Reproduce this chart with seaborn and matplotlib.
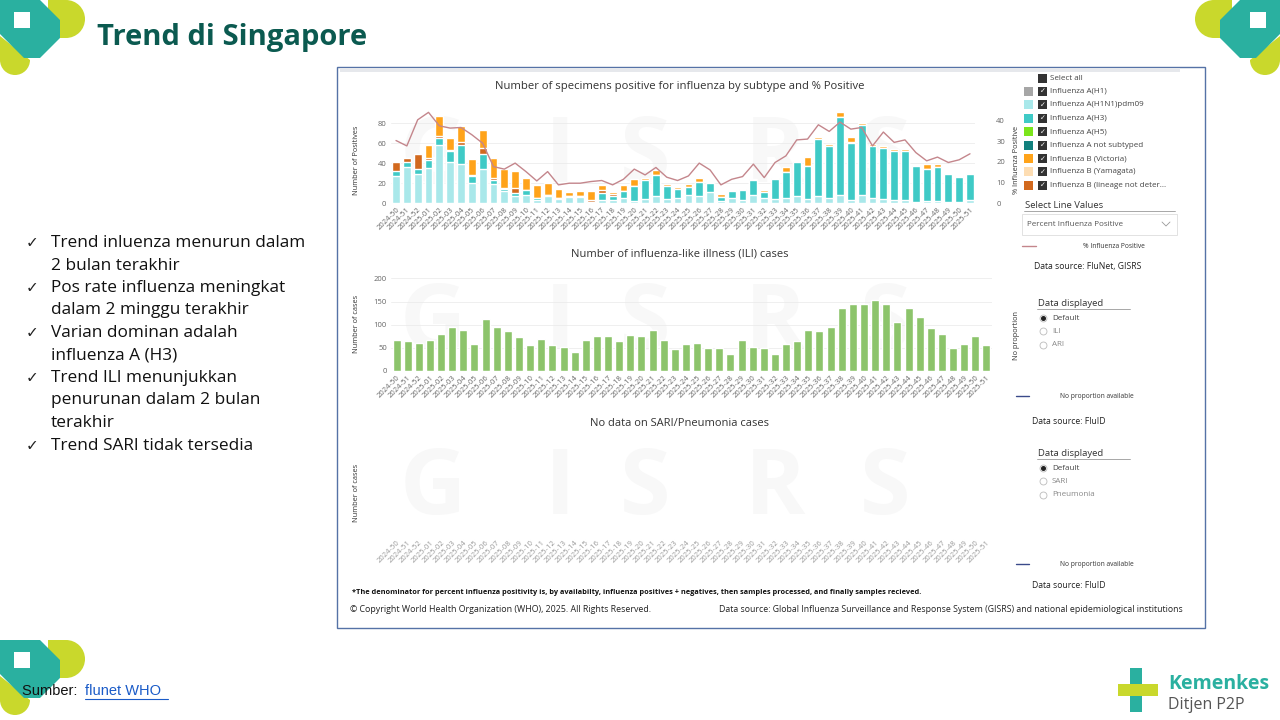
import numpy as np
import pandas as pd
import seaborn as sns
import matplotlib.pyplot as plt
from matplotlib.patches import Rectangle, Polygon, Wedge

# ---- data ----
weeks = ['2024-50', '2024-51', '2024-52', '2025-01', '2025-02', '2025-03', '2025-04',
         '2025-05', '2025-06', '2025-07', '2025-08', '2025-09', '2025-10', '2025-11',
         '2025-12', '2025-13', '2025-14', '2025-15', '2025-16', '2025-17', '2025-18',
         '2025-19', '2025-20', '2025-21', '2025-22', '2025-23', '2025-24', '2025-25',
         '2025-26', '2025-27', '2025-28', '2025-29', '2025-30', '2025-31', '2025-32',
         '2025-33', '2025-34', '2025-35', '2025-36', '2025-37', '2025-38', '2025-39',
         '2025-40', '2025-41', '2025-42', '2025-43', '2025-44', '2025-45', '2025-46',
         '2025-47', '2025-48', '2025-49', '2025-50', '2025-51']

h1n1 = [27, 36, 29, 35, 58, 41, 39, 20, 34, 19, 12, 7, 8, 3, 7, 4, 6, 6, 1, 3, 3, 5, 2, 4, 7,
        4, 5, 8, 7, 11, 2, 5, 3, 8, 5, 4, 5, 7, 4, 7, 5, 8, 3, 8, 5, 4, 3, 3, 1, 2, 2, 1, 1, 3]
h3 = [5, 5, 5, 8, 7, 11, 19, 7, 15, 4, 2, 3, 5, 2, 1, 1, 1, 1, 0, 7, 4, 7, 15, 19, 21,
      13, 9, 8, 14, 9, 4, 7, 10, 15, 6, 20, 26, 34, 33, 57, 52, 78, 57, 70, 52, 51, 49, 49,
      36, 32, 34, 28, 25, 26]
b_nd = [9, 4, 15, 2, 2, 1, 3, 1, 6, 2, 1, 5, 0, 0, 0, 0, 0, 0, 2, 3, 2, 0, 0, 0, 0,
        0, 0, 0, 0, 0, 0, 0, 0, 0, 0, 0, 0, 0, 0, 0, 0, 0, 1, 0, 0, 0, 0, 0, 0, 0, 0, 0, 1, 0]
b_vic = [0, 0, 0, 13, 20, 12, 16, 16, 18, 20, 19, 17, 12, 13, 12, 9, 4, 5, 9, 5, 2, 6, 7, 2, 5,
         2, 2, 3, 4, 1, 3, 1, 1, 1, 2, 1, 5, 1, 9, 2, 2, 5, 5, 2, 2, 2, 2, 2, 1, 5, 3, 0, 1, 0]
pct_pos = [30.3, 27.7, 40.3, 43.9, 37.4, 36.3, 36.6, 33.1, 29.0, 17.7, 16.5, 19.4, 15.3, 10.8,
           15.3, 8.9, 9.7, 9.7, 10.5, 11.0, 8.9, 11.6, 16.5, 13.7, 17.3, 12.6, 11.0, 13.2,
           19.4, 16.1, 8.9, 11.6, 12.9, 18.9, 12.4, 19.7, 22.9, 30.6, 31.0, 37.9, 34.7, 39.2,
           35.8, 36.6, 27.7, 34.4, 29.4, 30.6, 24.5, 20.5, 22.3, 19.7, 21.0, 23.9]
ili_cases = [66, 64, 61, 66, 81, 96, 89, 59, 113, 95, 86, 74, 56, 70, 57, 51, 41, 66, 75, 75,
             64, 77, 76, 89, 66, 48, 59, 61, 50, 50, 37, 66, 52, 50, 36, 59, 64, 89, 86, 96,
             136, 145, 144, 153, 144, 105, 136, 117, 93, 81, 49, 59, 76, 56]

subtypes = ['Influenza A(H1)', 'Influenza A(H1N1)pdm09', 'Influenza A(H3)', 'Influenza A(H5)',
            'Influenza A not subtyped', 'Influenza B (Victoria)', 'Influenza B (Yamagata)',
            'Influenza B (lineage not deter...']
subtype_colors = ['#A6A6A6', '#A9E8EA', '#3FCAC6', '#7CE51C', '#12817E', '#FFA31A',
                  '#FDDDB3', '#D2691E']

bullets = [['Trend inluenza menurun dalam', '2 bulan terakhir'],
           ['Pos rate influenza meningkat', 'dalam 2 minggu terakhir'],
           ['Varian dominan adalah', 'influenza A (H3)'],
           ['Trend ILI menunjukkan', 'penurunan dalam 2 bulan', 'terakhir'],
           ['Trend SARI tidak tersedia']]

sns.set_theme(style='white')
plt.rcParams['font.family'] = ['Open Sans', 'DejaVu Sans']

W, H = 1280, 720
fig = plt.figure(figsize=(12.8, 7.2), dpi=100)
fig.patch.set_facecolor('white')


def box(x0, y0, x1, y1):
    return [x0 / W, 1 - y1 / H, (x1 - x0) / W, (y1 - y0) / H]


bg = fig.add_axes([0, 0, 1, 1])
bg.set_xlim(0, W)
bg.set_ylim(H, 0)
bg.axis('off')

TEAL = '#2AB0A0'
LIME = '#C9D82C'


def logo(x, y, s=1.0, flip=False):
    # rough version of the corner ornament
    def p(px_, py_):
        return (x + (-px_ if flip else px_) * s, y + py_ * s)
    bg.add_patch(Polygon([p(48, 0), p(66, 0), p(66, 38), p(48, 38)], color=LIME, lw=0))
    bg.add_patch(Wedge(p(66, 19), 19 * s, -90 if not flip else 90, 90 if not flip else 270,
                       color=LIME, lw=0))
    bg.add_patch(Polygon([p(0, 36), p(30, 60), p(0, 60)], color=LIME, lw=0))
    bg.add_patch(Wedge(p(15, 60), 15 * s, 0, 180, color=LIME, lw=0))
    bg.add_patch(Polygon([p(0, 0), p(40, 0), p(60, 20), p(60, 38), p(40, 58), p(24, 58),
                          p(0, 34)], color=TEAL, lw=0))
    bg.add_patch(Polygon([p(14, 12), p(30, 12), p(30, 28), p(14, 28)], color='white', lw=0))


logo(0, 0)
logo(W, 0, flip=True)
logo(0, 640)

bg.text(97, 38, 'Trend di Singapore', fontsize=21, fontweight='bold', color='#0B5A50',
        va='center')

y = 243
for item in bullets:
    bg.text(26, y, '\u2713', fontsize=11, color='#222', va='center',
            family=['DejaVu Sans'])
    for line in item:
        bg.text(51, y, line, fontsize=12.4, color='#111', va='center')
        y += 22.5

bg.text(22, 691, 'Sumber: ', fontsize=10.5, color='#111', va='center',
        family=['Liberation Sans'])
bg.text(85, 691, 'flunet WHO', fontsize=10.5, color='#1A5BC8', va='center',
        family=['Liberation Sans'])
bg.plot([85, 168], [699, 699], color='#1A5BC8', lw=0.8)

# Kemenkes mark
bg.add_patch(Polygon([(1130, 668), (1142, 668), (1142, 712), (1130, 712)], color=TEAL, lw=0))
bg.add_patch(Polygon([(1118, 684), (1158, 684), (1158, 696), (1118, 696)], color=LIME, lw=0))
bg.text(1168, 684, 'Kemenkes', fontsize=14, fontweight='bold', color=TEAL, va='center')
bg.text(1168, 705, 'Ditjen P2P', fontsize=11.5, color='#555', va='center')

# dashboard panel
bg.add_patch(Rectangle((337, 67), 868, 561, fill=False, ec='#5572A6', lw=1))
bg.add_patch(Rectangle((340, 68), 840, 4, color='#E6E8EC', lw=0))
# faint watermark letters behind each chart
for cy in [158, 325, 490]:
    for lx, ch in zip([400, 545, 620, 745, 860], 'GISRS'):
        bg.text(lx, cy, ch, fontsize=66, fontweight='bold', color='#F8F8F8',
                va='center', ha='left', zorder=0)

n = len(weeks)
x = np.arange(n)
tick_kw = dict(rotation=45, ha='right', rotation_mode='anchor', fontsize=5.5, color='#777')

# --- chart 1: positives by subtype ---
ax1 = fig.add_axes(box(390.6, 108, 975.4, 203.3))
ax1.patch.set_alpha(0)
layers = np.cumsum([h1n1, h3, b_nd, b_vic], axis=0)
layer_cols = [subtype_colors[1], subtype_colors[2], subtype_colors[7], subtype_colors[5]]
for lvl in range(3, -1, -1):
    sns.barplot(x=weeks, y=layers[lvl], color=layer_cols[lvl], saturation=1, width=0.72,
                ax=ax1, zorder=2)
ax1.set_ylim(0, 95)
ax1.set_yticks([0, 20, 40, 60, 80])
ax1.grid(axis='y', color='#ECECEC', lw=0.6)
ax1.set_axisbelow(True)
ax1.set_xlim(-0.5, n - 0.5)
ax1.set_xticks(x)
ax1.set_xticklabels(weeks, **tick_kw)
ax1.tick_params(axis='both', length=0, labelsize=5.5, labelcolor='#666', pad=3)
ax1.tick_params(axis='x', pad=2)
ax1.set_xlabel('')
ax1.set_ylabel('')
sns.despine(ax=ax1, left=True, bottom=True)

ax2 = ax1.twinx()
sns.lineplot(x=x, y=pct_pos, color='#C4868C', lw=1, ax=ax2)
ax2.set_ylim(0, 46)
ax2.set_yticks([0, 10, 20, 30, 40])
ax2.tick_params(axis='y', length=0, labelsize=5.5, labelcolor='#666', pad=15)
ax2.set_ylabel('')
sns.despine(ax=ax2, left=True, bottom=True, right=True)

bg.text(680, 87, 'Number of specimens positive for influenza by subtype and % Positive',
        fontsize=8.1, color='#333', ha='center', va='center')
bg.text(357, 160, 'Number of Positives', fontsize=5.3, color='#333', rotation=90,
        ha='center', va='center')
bg.text(1016, 160, '% Influenza Positive', fontsize=5.3, color='#333', rotation=90,
        ha='center', va='center')

# legend / slicer
bg.add_patch(Rectangle((1038, 73.5), 9, 9, color='#333', lw=0))
bg.text(1050, 78, 'Select all', fontsize=5.8, color='#444', va='center')
for i, (lab, col) in enumerate(zip(subtypes, subtype_colors)):
    yy = 91.5 + i * 13.4
    bg.add_patch(Rectangle((1024, yy - 4.5), 9, 9, color=col, lw=0))
    bg.add_patch(Rectangle((1038, yy - 4.5), 9, 9, color='#333', lw=0))
    bg.text(1042.5, yy, '\u2713', fontsize=5, color='white', ha='center', va='center',
            family=['DejaVu Sans'])
    bg.text(1050, yy, lab, fontsize=5.8, color='#444', va='center')
bg.text(1025, 205, 'Select Line Values', fontsize=6.8, color='#333', va='center')
bg.plot([1024, 1175], [211, 211], color='#999', lw=0.6)
bg.add_patch(Rectangle((1022, 214), 155, 21, fill=False, ec='#DDDDDD', lw=0.6))
bg.text(1027, 224.5, 'Percent Influenza Positive', fontsize=5.8, color='#555', va='center')
bg.plot([1162, 1166, 1170], [222, 226, 222], color='#999', lw=0.6)
bg.plot([1022, 1036], [246, 246], color='#C4868C', lw=1)
bg.text(1083, 247, '% Influenza Positive', fontsize=4.8, color='#333', va='center')
bg.text(1034, 267, 'Data source: FluNet, GISRS', fontsize=6.2, color='#222', va='center')

# --- chart 2: ILI cases ---
ax3 = fig.add_axes(box(391, 275.7, 992, 371))
ax3.patch.set_alpha(0)
sns.barplot(x=weeks, y=ili_cases, color='#8CC46B', saturation=1, width=0.72, ax=ax3,
            zorder=2)
ax3.set_ylim(0, 206)
ax3.set_yticks([0, 50, 100, 150, 200])
ax3.grid(axis='y', color='#ECECEC', lw=0.6)
ax3.set_axisbelow(True)
ax3.set_xlim(-0.5, n - 0.5)
ax3.set_xticks(x)
ax3.set_xticklabels(weeks, **tick_kw)
ax3.tick_params(axis='both', length=0, labelsize=5.5, labelcolor='#666', pad=3)
ax3.tick_params(axis='x', pad=2)
ax3.set_xlabel('')
ax3.set_ylabel('')
sns.despine(ax=ax3, left=True, bottom=True)

bg.text(680, 254, 'Number of influenza-like illness (ILI) cases', fontsize=8,
        color='#333', ha='center', va='center')
bg.text(356, 324, 'Number of cases', fontsize=5.3, color='#333', rotation=90,
        ha='center', va='center')
bg.text(1016, 335, 'No proportion', fontsize=5.3, color='#333', rotation=90,
        ha='center', va='center')


def radio_block(y0, options):
    bg.text(1038, y0, 'Data displayed', fontsize=6.8, color='#333', va='center')
    bg.plot([1037, 1130], [y0 + 6, y0 + 6], color='#999', lw=0.6)
    for k, opt in enumerate(options):
        yy = y0 + 15 + k * 13.3
        bg.plot(1043, yy, 'o', ms=5, mfc='white', mec='#BBBBBB', mew=0.6)
        if k == 0:
            bg.plot(1043, yy, 'o', ms=2.6, color='#222')
        bg.text(1052, yy, opt, fontsize=5.8, color='#444' if k == 0 else '#888',
                va='center')


radio_block(303, ['Default', 'ILI', 'ARI'])
bg.plot([1016, 1029], [396, 396], color='#3A4A8A', lw=1)
bg.text(1060, 396, 'No proportion available', fontsize=4.8, color='#333', va='center')
bg.text(1032, 422, 'Data source: FluID', fontsize=6.2, color='#222', va='center')

# --- chart 3: SARI (no data) ---
ax4 = fig.add_axes(box(391, 440, 992, 536))
ax4.patch.set_alpha(0)
ax4.set_xlim(-0.5, n - 0.5)
ax4.set_xticks(x)
ax4.set_xticklabels(weeks, rotation=45, ha='right', rotation_mode='anchor', fontsize=5.5,
                    color='#999')
ax4.set_yticks([])
ax4.tick_params(axis='x', length=0, pad=2)
sns.despine(ax=ax4, left=True, bottom=True)

bg.text(680, 423, 'No data on SARI/Pneumonia cases', fontsize=8, color='#333',
        ha='center', va='center')
bg.text(357, 493, 'Number of cases', fontsize=5.3, color='#333', rotation=90,
        ha='center', va='center')
radio_block(453, ['Default', 'SARI', 'Pneumonia'])
bg.plot([1016, 1029], [564, 564], color='#3A4A8A', lw=1)
bg.text(1060, 564, 'No proportion available', fontsize=4.8, color='#333', va='center')
bg.text(1032, 586, 'Data source: FluID', fontsize=6.2, color='#222', va='center')

bg.text(352, 592, '*The denominator for percent influenza positivity is, by availabilty, '
        'influenza positives + negatives, then samples processed, and finally samples recieved.',
        fontsize=5.3, fontweight='bold', color='#111', va='center')
bg.text(350, 609, '\u00a9 Copyright World Health Organization (WHO), 2025. All Rights Reserved.',
        fontsize=6.4, color='#222', va='center')
bg.text(1183, 609, 'Data source: Global Influenza Surveillance and Response System (GISRS) '
        'and national epidemiological institutions', fontsize=6.3, color='#222', va='center',
        ha='right')

fig.savefig('out.png', dpi=100)
